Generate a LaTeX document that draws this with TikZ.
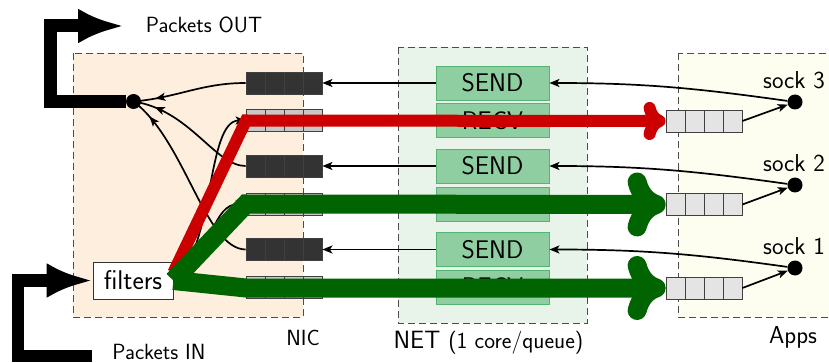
\documentclass[tikz,border=0pt]{standalone}
\usepackage{fontspec}
\usetikzlibrary{arrows.meta,decorations.markings}

\definecolor{nicbg}{HTML}{FDEEDE}
\definecolor{netbg}{HTML}{E8F3EA}
\definecolor{appbg}{HTML}{FEFEF0}
\definecolor{ctlfill}{HTML}{8FCEA0}
\definecolor{ctldraw}{HTML}{55B373}
\definecolor{rxred}{HTML}{CC0000}
\definecolor{rxgreen}{HTML}{006400}
\definecolor{txq}{HTML}{333333}
\definecolor{nicq}{HTML}{C8C8C8}
\definecolor{appq}{HTML}{E4E4E4}

\tikzset{
  zone/.style={draw=black!70, dash pattern=on 7pt off 4pt, line width=0.9pt},
  queue/.style={rectangle, draw=black!75, line width=0.8pt,
    minimum width=76pt, minimum height=22pt, inner sep=0pt,
    path picture={\foreach \i in {1,2,3}
      \draw[black!75, line width=0.8pt]
        ([xshift=\i*19pt]path picture bounding box.north west) --
        ([xshift=\i*19pt]path picture bounding box.south west);}},
  txqueue/.style={queue, fill=txq},
  nicrx/.style={queue, fill=nicq},
  appqueue/.style={queue, fill=appq},
  ctl/.style={rectangle, fill=ctlfill, draw=ctldraw, line width=0.9pt,
    minimum width=113pt, minimum height=34pt, inner sep=0pt,
    font=\sffamily\fontsize{25.5}{28}\selectfont},
  sockdot/.style={circle, fill=black, minimum size=15pt, inner sep=0pt},
  thinarrow/.style={line width=1.7pt, -{Stealth[length=10pt,width=8pt,inset=2.5pt]}},
  midarrow/.style={line width=1.7pt, postaction={decorate},
    decoration={markings, mark=at position -22pt with
      {\arrow{Stealth[length=10pt,width=8pt,inset=2.5pt]}}}},
  redflow/.style={rxred, line width=12pt,
    -{To[length=22pt,width=38pt,round]}},
  greenflow/.style={rxgreen, line width=19pt,
    -{To[length=38pt,width=64pt,round]}},
  bigarrow/.style={line width=13pt, -{Latex[length=46pt,width=35pt]}},
  lbl/.style={inner sep=0pt},
  smalllbl/.style={inner sep=0pt, font=\sffamily\fontsize{22}{26}\selectfont},
}

\begin{document}
\begin{tikzpicture}[x=1pt, y=-1pt, font=\sffamily\fontsize{24.5}{28}\selectfont]
  \useasboundingbox (0,0) rectangle (829,363);
  \clip (0,0) rectangle (829,363);

  % the three domains
  \fill[nicbg] (73,53) rectangle (303,317);
  \draw[zone] (73,53) rectangle (303,317);
  \fill[netbg] (398,47) rectangle (587,323);
  \draw[zone] (398,47) rectangle (587,323);
  \fill[appbg] (678,53) rectangle (840,317);
  \draw[zone] (678,53) rectangle (840,317);

  \node[smalllbl] (niclbl) at (303,338) {NIC};
  \node[smalllbl, font=\sffamily\fontsize{25}{26}\selectfont] (netlbl) at (488.5,343)
    {NET\hspace{8pt}{\fontsize{23}{24}\selectfont(1 core/queue)}};
  \node[lbl] (applbl) at (793,337) {Apps};

  % NIC queues
  \node[txqueue] (tx1) at (284,83) {};
  \node[nicrx]   (rx1) at (284,120.5) {};
  \node[txqueue] (tx2) at (284,166) {};
  \node[nicrx]   (rx2) at (284,204) {};
  \node[txqueue] (tx3) at (284,249.5) {};
  \node[nicrx]   (rx3) at (284,287) {};

  % per-core stack
  \node[ctl] (send1) at (492.5,83) {SEND};
  \node[ctl] (recv1) at (492.5,120.5) {RECV};
  \node[ctl] (send2) at (492.5,166) {SEND};
  \node[ctl] (recv2) at (492.5,204.5) {RECV};
  \node[ctl] (send3) at (492.5,249.5) {SEND};
  \node[ctl] (recv3) at (492.5,287) {RECV};

  % socket queues and sockets
  \node[appqueue] (aq1) at (704,121) {};
  \node[appqueue] (aq2) at (704,204.5) {};
  \node[appqueue] (aq3) at (704,288) {};
  \node[sockdot] (s3) at (795,102) {};
  \node[sockdot] (s2) at (795,185) {};
  \node[sockdot] (s1) at (795,268) {};
  \node[lbl] (s3lbl) at (794,80) {sock 3};
  \node[lbl] (s2lbl) at (794,163) {sock 2};
  \node[lbl] (s1lbl) at (794,246) {sock 1};

  % filters and transmit merge point
  \node[rectangle, draw=black!80, fill=white, line width=0.8pt,
        minimum width=80pt, minimum height=37pt, inner sep=0pt,
        font=\sffamily\fontsize{27}{28}\selectfont] (filters) at (133,280.5) {filters};
  \node[sockdot] (out) at (133.5,101.5) {};

  % transmit path
  \draw[thinarrow] (s3) to[out=172,in=0] (send1.east);
  \draw[thinarrow] (s2) to[out=172,in=0] (send2.east);
  \draw[thinarrow] (s1) to[out=172,in=0] (send3.east);
  \draw[thinarrow] (send1.west) -- (tx1.east);
  \draw[thinarrow] (send2.west) -- (tx2.east);
  \draw[thinarrow] (send3.west) -- (tx3.east);
  \draw[midarrow] (tx1.west) to[out=180,in=5] (out.center);
  \draw[midarrow] (tx2.west) .. controls (215,166) and (190,110) .. (out.center);
  \draw[midarrow] (tx3.west) .. controls (205,249) and (185,140) .. (out.center);

  % receive path (filters to NIC queues)
  \draw[thinarrow] (filters.east) .. controls (215,250) and (206,120.5) .. (rx1.west);
  \draw[thinarrow] (filters.east) .. controls (215,250) and (212,204) .. (rx2.west);
  \draw[thinarrow] (filters.east) to[out=0,in=180] (rx3.west);

  % socket queues to sockets
  \draw[thinarrow] (aq1.east) -- (s3);
  \draw[thinarrow] (aq2.east) -- (s2);
  \draw[thinarrow] (aq3.east) -- (s1);

  % steered flows
  \coordinate (rbend) at (246,120.5);
  \coordinate (gbend1) at (246,204);
  \coordinate (gbend2) at (246,288);
  \draw[redflow] ([yshift=8pt]filters.east) -- (rbend) -- (aq1.west);
  \draw[greenflow] (filters.east) -- (gbend1) -- (aq2.west);
  \draw[greenflow] (filters.east) -- (gbend2) -- (aq3.west);

  % packets in and out
  \coordinate (outA) at (50,101.5);
  \coordinate (outB) at (50,26);
  \coordinate (outC) at (124,26);
  \draw[bigarrow] (out.west) -- (outA) -- (outB) -- (outC);
  \node[smalllbl] (pout) at (204,25) {Packets OUT};

  \coordinate (inA) at (92,356);
  \coordinate (inB) at (18,356);
  \coordinate (inC) at (18,280.5);
  \draw[bigarrow, line width=12.5pt] (inA) -- (inB) -- (inC) -- (filters.west);
  \node[smalllbl] (pin) at (159,352) {Packets IN};
\end{tikzpicture}
\end{document}
